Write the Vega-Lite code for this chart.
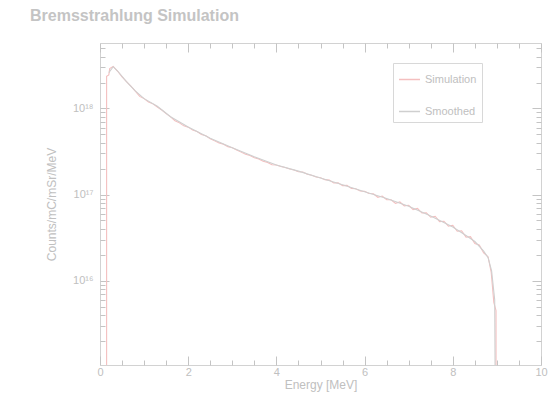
{
  "$schema": "https://vega.github.io/schema/vega-lite/v6.json",
  "width": 441,
  "height": 322,
  "autosize": {"type": "none"},
  "padding": {"left": 100, "top": 43, "right": 8, "bottom": 32},
  "background": "white",
  "title": {
    "text": "Bremsstrahlung Simulation",
    "anchor": "start",
    "frame": "group",
    "fontSize": 16,
    "fontWeight": "bold",
    "font": "Liberation Sans",
    "color": "#c4c4c4",
    "dx": -70,
    "offset": 18
  },
  "config": {
    "view": {"stroke": "#d2d2d2", "strokeWidth": 1},
    "font": "Liberation Sans",
    "axis": {
      "domain": false,
      "grid": false,
      "tickColor": "#c4c4c4",
      "tickWidth": 1,
      "zindex": 1,
      "labelColor": "#c0c0c0",
      "titleColor": "#c0c0c0",
      "labelFont": "Liberation Sans",
      "titleFont": "Liberation Sans",
      "labelFlush": false,
      "labelOverlap": false,
      "labelBound": false,
      "titleFontWeight": "normal"
    }
  },
  "datasets": {
    "sim": [
      {"E": 0.15, "v": 1e13, "s": "Simulation"},
      {"E": 0.15, "v": 2.36e18, "s": "Simulation"},
      {"E": 0.2, "v": 2.45e18, "s": "Simulation"},
      {"E": 0.22, "v": 2.9e18, "s": "Simulation"},
      {"E": 0.3, "v": 3.08e18, "s": "Simulation"},
      {"E": 0.4, "v": 2.70e18, "s": "Simulation"},
      {"E": 0.5, "v": 2.33e18, "s": "Simulation"},
      {"E": 0.6, "v": 2.05e18, "s": "Simulation"},
      {"E": 0.7, "v": 1.81e18, "s": "Simulation"},
      {"E": 0.8, "v": 1.59e18, "s": "Simulation"},
      {"E": 0.9, "v": 1.38e18, "s": "Simulation"},
      {"E": 1.0, "v": 1.30e18, "s": "Simulation"},
      {"E": 1.1, "v": 1.19e18, "s": "Simulation"},
      {"E": 1.2, "v": 1.13e18, "s": "Simulation"},
      {"E": 1.3, "v": 1.04e18, "s": "Simulation"},
      {"E": 1.4, "v": 9.6e17, "s": "Simulation"},
      {"E": 1.5, "v": 8.7e17, "s": "Simulation"},
      {"E": 1.6, "v": 7.98e17, "s": "Simulation"},
      {"E": 1.7, "v": 7.2e17, "s": "Simulation"},
      {"E": 1.8, "v": 6.8e17, "s": "Simulation"},
      {"E": 1.9, "v": 6.28e17, "s": "Simulation"},
      {"E": 2.0, "v": 6.06e17, "s": "Simulation"},
      {"E": 2.1, "v": 5.6e17, "s": "Simulation"},
      {"E": 2.2, "v": 5.4e17, "s": "Simulation"},
      {"E": 2.3, "v": 4.98e17, "s": "Simulation"},
      {"E": 2.4, "v": 4.82e17, "s": "Simulation"},
      {"E": 2.5, "v": 4.45e17, "s": "Simulation"},
      {"E": 2.6, "v": 4.2e17, "s": "Simulation"},
      {"E": 2.7, "v": 3.96e17, "s": "Simulation"},
      {"E": 2.8, "v": 3.83e17, "s": "Simulation"},
      {"E": 2.9, "v": 3.6e17, "s": "Simulation"},
      {"E": 3.0, "v": 3.49e17, "s": "Simulation"},
      {"E": 3.1, "v": 3.29e17, "s": "Simulation"},
      {"E": 3.2, "v": 3.11e17, "s": "Simulation"},
      {"E": 3.3, "v": 2.93e17, "s": "Simulation"},
      {"E": 3.4, "v": 2.84e17, "s": "Simulation"},
      {"E": 3.5, "v": 2.67e17, "s": "Simulation"},
      {"E": 3.6, "v": 2.59e17, "s": "Simulation"},
      {"E": 3.7, "v": 2.43e17, "s": "Simulation"},
      {"E": 3.8, "v": 2.36e17, "s": "Simulation"},
      {"E": 3.9, "v": 2.22e17, "s": "Simulation"},
      {"E": 4.0, "v": 2.2e17, "s": "Simulation"},
      {"E": 4.1, "v": 2.12e17, "s": "Simulation"},
      {"E": 4.2, "v": 2.06e17, "s": "Simulation"},
      {"E": 4.3, "v": 1.98e17, "s": "Simulation"},
      {"E": 4.4, "v": 1.93e17, "s": "Simulation"},
      {"E": 4.5, "v": 1.84e17, "s": "Simulation"},
      {"E": 4.6, "v": 1.83e17, "s": "Simulation"},
      {"E": 4.7, "v": 1.72e17, "s": "Simulation"},
      {"E": 4.8, "v": 1.68e17, "s": "Simulation"},
      {"E": 4.9, "v": 1.6e17, "s": "Simulation"},
      {"E": 5.0, "v": 1.57e17, "s": "Simulation"},
      {"E": 5.1, "v": 1.49e17, "s": "Simulation"},
      {"E": 5.2, "v": 1.47e17, "s": "Simulation"},
      {"E": 5.3, "v": 1.36e17, "s": "Simulation"},
      {"E": 5.4, "v": 1.37e17, "s": "Simulation"},
      {"E": 5.5, "v": 1.27e17, "s": "Simulation"},
      {"E": 5.6, "v": 1.28e17, "s": "Simulation"},
      {"E": 5.7, "v": 1.18e17, "s": "Simulation"},
      {"E": 5.8, "v": 1.17e17, "s": "Simulation"},
      {"E": 5.9, "v": 1.1e17, "s": "Simulation"},
      {"E": 6.0, "v": 1.09e17, "s": "Simulation"},
      {"E": 6.1, "v": 1.03e17, "s": "Simulation"},
      {"E": 6.2, "v": 1.02e17, "s": "Simulation"},
      {"E": 6.3, "v": 9.3e16, "s": "Simulation"},
      {"E": 6.4, "v": 9.6e16, "s": "Simulation"},
      {"E": 6.5, "v": 8.7e16, "s": "Simulation"},
      {"E": 6.6, "v": 8.7e16, "s": "Simulation"},
      {"E": 6.7, "v": 7.9e16, "s": "Simulation"},
      {"E": 6.8, "v": 8.2e16, "s": "Simulation"},
      {"E": 6.9, "v": 7.4e16, "s": "Simulation"},
      {"E": 7.0, "v": 7.5e16, "s": "Simulation"},
      {"E": 7.1, "v": 6.7e16, "s": "Simulation"},
      {"E": 7.2, "v": 6.9e16, "s": "Simulation"},
      {"E": 7.3, "v": 6.1e16, "s": "Simulation"},
      {"E": 7.4, "v": 6.15e16, "s": "Simulation"},
      {"E": 7.5, "v": 5.45e16, "s": "Simulation"},
      {"E": 7.6, "v": 5.6e16, "s": "Simulation"},
      {"E": 7.7, "v": 4.85e16, "s": "Simulation"},
      {"E": 7.8, "v": 4.9e16, "s": "Simulation"},
      {"E": 7.9, "v": 4.3e16, "s": "Simulation"},
      {"E": 8.0, "v": 4.4e16, "s": "Simulation"},
      {"E": 8.1, "v": 3.75e16, "s": "Simulation"},
      {"E": 8.2, "v": 3.8e16, "s": "Simulation"},
      {"E": 8.3, "v": 3.2e16, "s": "Simulation"},
      {"E": 8.4, "v": 3.25e16, "s": "Simulation"},
      {"E": 8.5, "v": 2.7e16, "s": "Simulation"},
      {"E": 8.6, "v": 2.6e16, "s": "Simulation"},
      {"E": 8.7, "v": 2.1e16, "s": "Simulation"},
      {"E": 8.8, "v": 1.9e16, "s": "Simulation"},
      {"E": 8.87, "v": 1.26e16, "s": "Simulation"},
      {"E": 8.93, "v": 5.6e15, "s": "Simulation"},
      {"E": 8.98, "v": 4.5e15, "s": "Simulation"},
      {"E": 8.98, "v": 1e13, "s": "Simulation"}
    ],
    "smooth": [
      {"E": 0.2, "v": 2.6e18, "s": "Smoothed"},
      {"E": 0.3, "v": 3.05e18, "s": "Smoothed"},
      {"E": 0.4, "v": 2.72e18, "s": "Smoothed"},
      {"E": 0.6, "v": 2.05e18, "s": "Smoothed"},
      {"E": 0.8, "v": 1.6e18, "s": "Smoothed"},
      {"E": 1.0, "v": 1.3e18, "s": "Smoothed"},
      {"E": 1.3, "v": 1.06e18, "s": "Smoothed"},
      {"E": 1.6, "v": 8.0e17, "s": "Smoothed"},
      {"E": 2.0, "v": 6.1e17, "s": "Smoothed"},
      {"E": 2.5, "v": 4.5e17, "s": "Smoothed"},
      {"E": 3.0, "v": 3.5e17, "s": "Smoothed"},
      {"E": 3.5, "v": 2.75e17, "s": "Smoothed"},
      {"E": 4.0, "v": 2.2e17, "s": "Smoothed"},
      {"E": 4.5, "v": 1.87e17, "s": "Smoothed"},
      {"E": 5.0, "v": 1.56e17, "s": "Smoothed"},
      {"E": 5.5, "v": 1.3e17, "s": "Smoothed"},
      {"E": 6.0, "v": 1.08e17, "s": "Smoothed"},
      {"E": 6.5, "v": 9.0e16, "s": "Smoothed"},
      {"E": 7.0, "v": 7.3e16, "s": "Smoothed"},
      {"E": 7.5, "v": 5.65e16, "s": "Smoothed"},
      {"E": 8.0, "v": 4.2e16, "s": "Smoothed"},
      {"E": 8.3, "v": 3.35e16, "s": "Smoothed"},
      {"E": 8.5, "v": 2.85e16, "s": "Smoothed"},
      {"E": 8.7, "v": 2.2e16, "s": "Smoothed"},
      {"E": 8.8, "v": 1.85e16, "s": "Smoothed"},
      {"E": 8.88, "v": 1.3e16, "s": "Smoothed"},
      {"E": 8.95, "v": 6e15, "s": "Smoothed"},
      {"E": 8.98, "v": 1e13, "s": "Smoothed"}
    ]
  },
  "resolve": {"axis": {"x": "independent", "y": "independent"}},
  "layer": [
    {
      "data": {"name": "sim"},
      "mark": {"type": "line", "clip": true, "strokeWidth": 1.1},
      "encoding": {
        "x": {
          "field": "E", "type": "quantitative",
          "scale": {"domain": [0, 10], "nice": false, "zero": false},
          "axis": {
            "orient": "bottom",
            "values": [0, 0.5, 1, 1.5, 2, 2.5, 3, 3.5, 4, 4.5, 5, 5.5, 6, 6.5, 7, 7.5, 8, 8.5, 9, 9.5, 10],
            "labelExpr": "datum.value % 2 == 0 ? format(datum.value, 'd') : ''",
            "tickSize": -9,
            "tickDash": {"condition": {"test": "datum.value % 2 == 0", "value": []}, "value": [5, 40]},
            "labelPadding": 10, "labelFontSize": 11,
            "title": "Energy [MeV]", "titleFontSize": 12, "titlePadding": 2
          }
        },
        "y": {
          "field": "v", "type": "quantitative",
          "scale": {"type": "log", "domain": [1.05e15, 5.75e18], "nice": false},
          "axis": {
            "orient": "left",
            "values": [2e15, 3e15, 4e15, 5e15, 6e15, 7e15, 8e15, 9e15, 1e16, 2e16, 3e16, 4e16, 5e16, 6e16, 7e16, 8e16, 9e16, 1e17, 2e17, 3e17, 4e17, 5e17, 6e17, 7e17, 8e17, 9e17, 1e18, 2e18, 3e18, 4e18, 5e18],
            "labelExpr": "datum.value == 1e18 ? '10¹⁸' : datum.value == 1e17 ? '10¹⁷' : datum.value == 1e16 ? '10¹⁶' : ''",
            "tickSize": -9,
            "tickDash": {"condition": {"test": "datum.value == 1e16 || datum.value == 1e17 || datum.value == 1e18", "value": []}, "value": [5, 40]},
            "labelPadding": 16, "labelFontSize": 11,
            "title": "Counts/mC/mSr/MeV", "titleFontSize": 12, "titlePadding": 14
          }
        },
        "color": {
          "field": "s", "type": "nominal",
          "scale": {"domain": ["Simulation", "Smoothed"], "range": ["#f4bfbf", "#cfcfcf"]},
          "legend": {
            "title": null,
            "orient": "none",
            "legendX": 293,
            "legendY": 20,
            "symbolType": "stroke",
            "symbolSize": 441,
            "symbolStrokeWidth": 1.5,
            "labelFontSize": 11,
            "labelColor": "#c0c0c0",
            "labelFont": "Liberation Sans",
            "labelLimit": 400,
            "labelExpr": "datum.label + '\u00a0\u00a0\u00a0\u00a0\u00a0\u00a0\u00a0\u00a0\u00a0\u00a0\u00a0\u00a0\u00a0\u00a0'",
            "rowPadding": 15,
            "padding": 5,
            "strokeColor": "#d8d8d8",
            "fillColor": "white"
          }
        }
      }
    },
    {
      "data": {"name": "smooth"},
      "mark": {"type": "line", "clip": true, "strokeWidth": 1.1},
      "encoding": {
        "x": {
          "field": "E", "type": "quantitative",
          "scale": {"domain": [0, 10], "nice": false, "zero": false},
          "axis": {
            "orient": "top",
            "values": [0, 0.5, 1, 1.5, 2, 2.5, 3, 3.5, 4, 4.5, 5, 5.5, 6, 6.5, 7, 7.5, 8, 8.5, 9, 9.5, 10],
            "labels": false,
            "tickSize": -9,
            "tickDash": {"condition": {"test": "datum.value % 2 == 0", "value": []}, "value": [5, 40]},
            "title": null
          }
        },
        "y": {
          "field": "v", "type": "quantitative",
          "scale": {"type": "log", "domain": [1.05e15, 5.75e18], "nice": false},
          "axis": {
            "orient": "right",
            "values": [2e15, 3e15, 4e15, 5e15, 6e15, 7e15, 8e15, 9e15, 1e16, 2e16, 3e16, 4e16, 5e16, 6e16, 7e16, 8e16, 9e16, 1e17, 2e17, 3e17, 4e17, 5e17, 6e17, 7e17, 8e17, 9e17, 1e18, 2e18, 3e18, 4e18, 5e18],
            "labels": false,
            "tickSize": -9,
            "tickDash": {"condition": {"test": "datum.value == 1e16 || datum.value == 1e17 || datum.value == 1e18", "value": []}, "value": [5, 40]},
            "title": null
          }
        },
        "color": {"field": "s", "type": "nominal"}
      }
    }
  ]
}
